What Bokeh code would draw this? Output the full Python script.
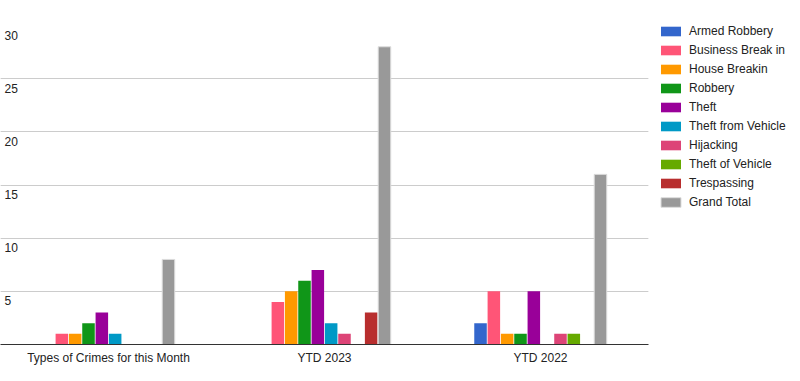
from bokeh.plotting import figure
from bokeh.models import FactorRange, Range1d, Legend, LegendItem, ColumnDataSource, Grid, FixedTicker
from bokeh.transform import dodge
from bokeh.core.properties import value
from bokeh.embed import file_html
from bokeh.resources import INLINE

categories = ["Types of Crimes for this Month", "YTD 2023", "YTD 2022"]
series_names = ["Armed Robbery", "Business Break in", "House Breakin", "Robbery", "Theft",
                "Theft from Vehicle", "Hijacking", "Theft of Vehicle", "Trespassing", "Grand Total"]
colors = ["#3366cc", "#ff5577", "#ff9900", "#109618", "#990099",
          "#0099c6", "#dd4477", "#66aa00", "#b82e2e", "#999999"]

armed_robbery = [0, 0, 2]
business_break_in = [1, 4, 5]
house_breakin = [1, 5, 1]
robbery = [2, 6, 1]
theft = [3, 7, 5]
theft_from_vehicle = [1, 2, 0]
hijacking = [0, 1, 1]
theft_of_vehicle = [0, 0, 1]
trespassing = [0, 3, 0]
grand_total = [8, 28, 16]

y_ticks = [5, 10, 15, 20, 25, 30]

series_values = [armed_robbery, business_break_in, house_breakin, robbery, theft,
                 theft_from_vehicle, hijacking, theft_of_vehicle, trespassing, grand_total]

FONT = "Liberation Sans"

p = figure(x_range=FactorRange(*categories, range_padding=0), y_range=Range1d(0, 30),
           frame_width=648, frame_height=319, output_backend="svg", toolbar_location=None,
           y_axis_location=None, min_border_left=0, min_border_top=25, min_border_right=0)
p.outline_line_color = None
p.xgrid.visible = False
p.add_layout(Grid(dimension=1, ticker=FixedTicker(ticks=y_ticks), grid_line_color="#cccccc"))

data = {"cat": categories}
for name, vals in zip(series_names, series_values):
    data[name] = vals
src = ColumnDataSource(data)

slot = 0.0617
items = []
for i, (name, col) in enumerate(zip(series_names, colors)):
    lc = "#dddddd" if name == "Grand Total" else None
    r = p.vbar(x=dodge("cat", (i - 4.5) * slot, range=p.x_range), top=name, width=slot * 0.94,
               source=src, fill_color=col, line_color=lc, line_width=1)
    items.append(LegendItem(label=name, renderers=[r]))

lab = ColumnDataSource({"x": [categories[0]] * len(y_ticks), "y": y_ticks,
                        "t": [str(t) for t in y_ticks]})
p.text(x=dodge("x", -0.5, range=p.x_range), y="y", text="t", source=lab,
       x_offset=4, y_offset=5, text_baseline="top", text_align="left",
       text_font=value(FONT), text_font_size="12px", text_color="#222222")

ax = p.xaxis[0]
ax.axis_line_color = "#333333"
ax.major_tick_line_color = None
ax.minor_tick_line_color = None
ax.major_tick_out = 0
ax.major_tick_in = 0
ax.major_label_text_font = FONT
ax.major_label_text_font_size = "12px"
ax.major_label_text_color = "#222222"
ax.major_label_standoff = 6

legend = Legend(items=items, location=(10, 135), margin=0, padding=0,
                glyph_width=25, glyph_height=12, label_height=12, spacing=5,
                label_standoff=6, label_text_font=FONT, label_text_font_size="12px",
                label_text_color="#222222", border_line_color=None,
                background_fill_alpha=0)
p.add_layout(legend, "right")
p.min_border_right = 10

open("out.html", "w").write(file_html(p, INLINE))
